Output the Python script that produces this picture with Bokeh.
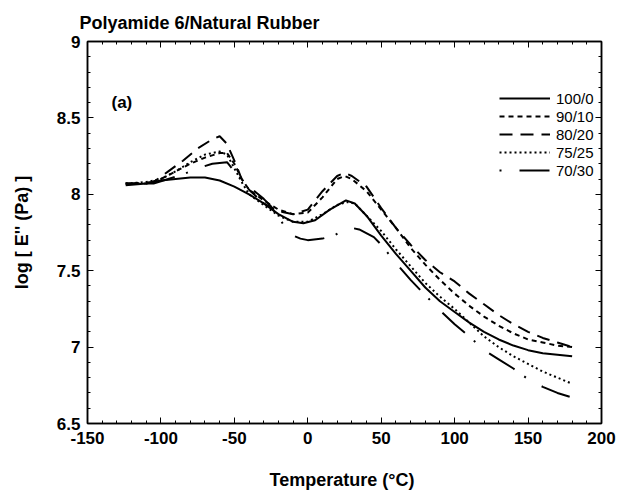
from bokeh.plotting import figure
from bokeh.models import Range1d, LinearAxis, SingleIntervalTicker, Label
from bokeh.embed import file_html
from bokeh.resources import INLINE

# ---------------- data ----------------
x_ticks = [-150, -100, -50, 0, 50, 100, 150, 200]
x_tick_labels = ["-150", "-100", "-50", "0", "50", "100", "150", "200"]
y_ticks = [6.5, 7.0, 7.5, 8.0, 8.5, 9.0]
y_tick_labels = ["6.5", "7", "7.5", "8", "8.5", "9"]

series_names = ["100/0", "90/10", "80/20", "75/25", "70/30"]

T_100_0 = [-124, -110, -100, -90, -80, -70, -60, -50, -40, -30, -20, -10, -3, 5, 15, 26, 32, 40, 50, 60, 70, 80, 90, 100, 110, 120, 130, 140, 150, 160, 170, 180]
E_100_0 = [8.06, 8.07, 8.09, 8.10, 8.11, 8.11, 8.09, 8.05, 8.00, 7.94, 7.87, 7.82, 7.81, 7.83, 7.90, 7.96, 7.94, 7.86, 7.73, 7.61, 7.50, 7.39, 7.30, 7.23, 7.16, 7.10, 7.05, 7.01, 6.98, 6.96, 6.95, 6.94]

T_90_10 = [-124, -110, -100, -90, -80, -70, -60, -55, -50, -45, -40, -30, -20, -10, 0, 10, 20, 25, 30, 40, 50, 60, 70, 80, 90, 100, 110, 120, 130, 140, 150, 160, 170, 180]
E_90_10 = [8.07, 8.07, 8.10, 8.15, 8.20, 8.24, 8.27, 8.27, 8.20, 8.10, 8.03, 7.96, 7.90, 7.87, 7.88, 7.98, 8.10, 8.12, 8.10, 8.02, 7.90, 7.78, 7.65, 7.54, 7.44, 7.35, 7.27, 7.20, 7.14, 7.09, 7.05, 7.03, 7.01, 7.00]

T_80_20 = [-124, -105, -95, -85, -75, -65, -60, -55, -50, -45, -40, -30, -20, -10, 0, 10, 20, 25, 30, 40, 50, 60, 70, 80, 90, 100, 110, 120, 130, 140, 150, 160, 170, 180]
E_80_20 = [8.07, 8.08, 8.15, 8.22, 8.30, 8.36, 8.38, 8.33, 8.22, 8.10, 8.03, 7.94, 7.89, 7.87, 7.90, 8.02, 8.12, 8.14, 8.12, 8.05, 7.91, 7.78, 7.67, 7.57, 7.49, 7.43, 7.35, 7.28, 7.21, 7.15, 7.10, 7.06, 7.03, 7.00]

T_75_25 = [-124, -110, -100, -90, -80, -70, -60, -55, -50, -45, -40, -30, -20, -10, 0, 10, 20, 27, 32, 40, 50, 60, 70, 80, 90, 100, 110, 120, 130, 140, 150, 160, 170, 180]
E_75_25 = [8.07, 8.08, 8.10, 8.15, 8.21, 8.26, 8.28, 8.26, 8.17, 8.08, 8.00, 7.93, 7.86, 7.82, 7.82, 7.87, 7.93, 7.95, 7.94, 7.86, 7.76, 7.64, 7.53, 7.42, 7.33, 7.25, 7.16, 7.07, 7.00, 6.94, 6.89, 6.84, 6.80, 6.76]

T_70_30 = [-124, -105, -95, -85, -75, -65, -55, -50, -40, -30, -25, -20, -15, -10, -5, 0, 10, 18, 25, 30, 35, 45, 50, 60, 70, 80, 90, 100, 110, 120, 130, 140, 150, 160, 170, 180]
E_70_30 = [8.07, 8.07, 8.10, 8.13, 8.17, 8.20, 8.21, 8.15, 8.05, 7.97, 7.92, 7.85, 7.78, 7.73, 7.71, 7.70, 7.71, 7.73, 7.77, 7.78, 7.77, 7.72, 7.67, 7.55, 7.44, 7.34, 7.24, 7.15, 7.07, 6.98, 6.92, 6.86, 6.79, 6.74, 6.70, 6.67]

title_text = "Polyamide 6/Natural Rubber"
panel_text = "(a)"

FONT = "Liberation Sans"

p = figure(width=640, height=496, output_backend="svg", toolbar_location=None,
           x_range=Range1d(-150, 200), y_range=Range1d(6.5, 9.0),
           min_border_left=87, min_border_right=39, min_border_top=41, min_border_bottom=73,
           x_axis_type=None, y_axis_type=None)
p.xgrid.visible = False
p.ygrid.visible = False
p.outline_line_color = "black"
p.outline_line_width = 1.5
p.background_fill_color = "white"
p.border_fill_color = "white"

x_ov = {float(t): s for t, s in zip(x_ticks, x_tick_labels)}
y_ov = {float(t): s for t, s in zip(y_ticks, y_tick_labels)}


def style(ax, labels=True):
    ax.axis_line_color = "black"
    ax.axis_line_width = 1.5
    ax.major_tick_in = 6
    ax.major_tick_out = 0
    ax.minor_tick_in = 3
    ax.minor_tick_out = 0
    ax.major_tick_line_color = "black"
    ax.minor_tick_line_color = "black"
    if labels:
        ax.major_label_text_font = FONT
        ax.major_label_text_font_style = "bold"
        ax.major_label_text_font_size = "17px"
        ax.major_label_text_color = "black"
        ax.axis_label_text_font = FONT
        ax.axis_label_text_font_style = "bold"
        ax.axis_label_text_font_size = "18px"
        ax.axis_label_text_color = "black"
    else:
        ax.major_label_text_color = None
        ax.major_label_text_alpha = 0
        ax.major_label_text_font_size = "0px"
        ax.major_label_standoff = 0


xb = LinearAxis(ticker=SingleIntervalTicker(interval=50, num_minor_ticks=5),
                axis_label="Temperature  (°C)", major_label_overrides=x_ov)
style(xb)
xb.major_label_standoff = 8
xb.axis_label_standoff = 23
p.add_layout(xb, "below")

yl = LinearAxis(ticker=SingleIntervalTicker(interval=0.5, num_minor_ticks=5),
                axis_label="log [ E'' (Pa) ]", major_label_overrides=y_ov)
style(yl)
yl.major_label_standoff = 7
yl.axis_label_standoff = 22
p.add_layout(yl, "left")

xt = LinearAxis(ticker=SingleIntervalTicker(interval=50, num_minor_ticks=5))
style(xt, labels=False)
p.add_layout(xt, "above")

yr = LinearAxis(ticker=SingleIntervalTicker(interval=0.5, num_minor_ticks=5))
style(yr, labels=False)
p.add_layout(yr, "right")

p.title.text = title_text
p.title.text_font = FONT
p.title.text_font_style = "bold"
p.title.text_font_size = "18px"
p.title.text_color = "black"
p.title.align = "left"
p.title.offset = -8
p.title.standoff = 18

styles = [
    (T_100_0, E_100_0, "solid"),
    (T_90_10, E_90_10, "5 4"),
    (T_80_20, E_80_20, "13 8"),
    (T_75_25, E_75_25, "2 3"),
    (T_70_30, E_70_30, "2 18 30 12"),
]
for (t, e, dash), name in zip(styles, series_names):
    p.line(t, e, line_color="black", line_width=2, line_dash=dash, legend_label=name)

lg = p.legend[0]
lg.location = (412, 244)
lg.border_line_alpha = 0
lg.background_fill_alpha = 0
lg.glyph_width = 51
lg.glyph_height = 18
lg.label_height = 18
lg.spacing = 0
lg.padding = 0
lg.margin = 0
lg.label_standoff = 6
lg.label_text_font = FONT
lg.label_text_font_size = "15px"
lg.label_text_color = "black"

p.add_layout(Label(x=24, y=312, x_units="screen", y_units="screen", text=panel_text,
                   text_font=FONT, text_font_style="bold", text_font_size="17px",
                   text_color="black"))

open("out.html", "w").write(file_html(p, INLINE))
